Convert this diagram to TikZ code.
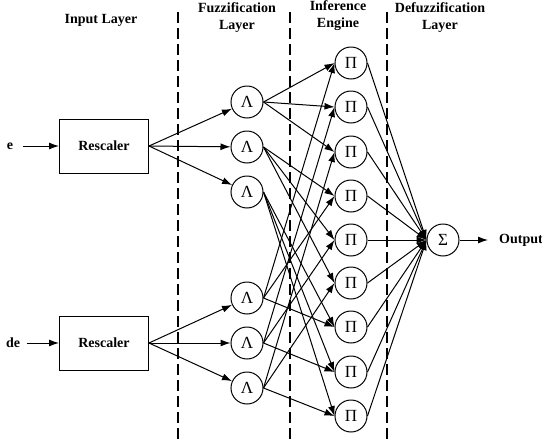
\documentclass[tikz,border=0pt]{standalone}
\usepackage{fontspec}
\setmainfont{Liberation Serif}
\usepackage{tikz}
\usetikzlibrary{arrows.meta,positioning}

\begin{document}
\begin{tikzpicture}[x=1pt,y=-1pt,
		  every node/.style={font=\fontsize{14}{17}\selectfont\bfseries},
		  layer/.style={align=center},
		  neuron/.style={circle, draw, line width=1pt, minimum size=32pt, inner sep=0pt,
		                 font=\fontsize{17}{17}\selectfont},
		  scaler/.style={rectangle, draw, line width=1pt, minimum width=89pt, minimum height=54pt},
		  conn/.style={-{Latex[length=10pt,width=7pt]}, line width=1pt},
		  divider/.style={dash pattern=on 11pt off 5pt, line width=1.1pt}]
		  \useasboundingbox (0,0) rectangle (542,445);
		  % layer titles
		  \node[layer] (tin) at (101,20) {Input Layer};
		  \node[layer] (tfuz) at (237,18) {Fuzzification\\Layer};
		  \node[layer] (tinf) at (338,16) {Inference\\Engine};
		  \node[layer] (tdef) at (440,18) {Defuzzification\\Layer};
		  % dashed separators
		  \foreach \x in {178,290,387}
		      \draw[divider] (\x,12) -- (\x,442);
		  % inputs and rescalers
		  \node (e) at (10,146) {e};
		  \node (de) at (13,343) {de};
		  \node[scaler] (res1) at (104,146) {Rescaler};
		  \node[scaler] (res2) at (104,343) {Rescaler};
		  \draw[conn, shorten <=6pt] (e) -- (res1);
		  \draw[conn, shorten <=3pt] (de) -- (res2);
		  % membership functions
		  \foreach \i/\y in {1/102,2/147,3/192,4/298,5/343,6/388}
		      \node[neuron] (fuz\i) at (247,\y) {Λ};
		  \foreach \i in {1,2,3}
		      \draw[conn] (res1.east) -- (fuz\i);
		  \foreach \i in {4,5,6}
		      \draw[conn] (res2.east) -- (fuz\i);
		  % rule nodes
		  \foreach \i/\y in {1/63,2/107,3/152,4/196,5/240,6/283,7/327,8/372,9/416}
		      \node[neuron] (rule\i) at (351,\y) {Π};
		  \foreach \a/\b/\r in {1/4/1,1/5/2,1/6/3,2/4/4,2/5/5,2/6/6,3/4/7,3/5/8,3/6/9}{
		      \draw[conn] (fuz\a.east) -- (rule\r.west);
		      \draw[conn] (fuz\b.east) -- (rule\r.west);
		  }
		  % summation and output
		  \node[neuron] (sum) at (443,240) {Σ};
		  \foreach \r in {1,...,9}
		      \draw[conn] (rule\r.east) -- (sum.west);
		  \coordinate (outend) at (488,240);
		  \node[anchor=west, inner sep=0pt] (out) at (499,240) {Output};
		  \draw[conn] (sum) -- (outend);
\end{tikzpicture}
\end{document}
